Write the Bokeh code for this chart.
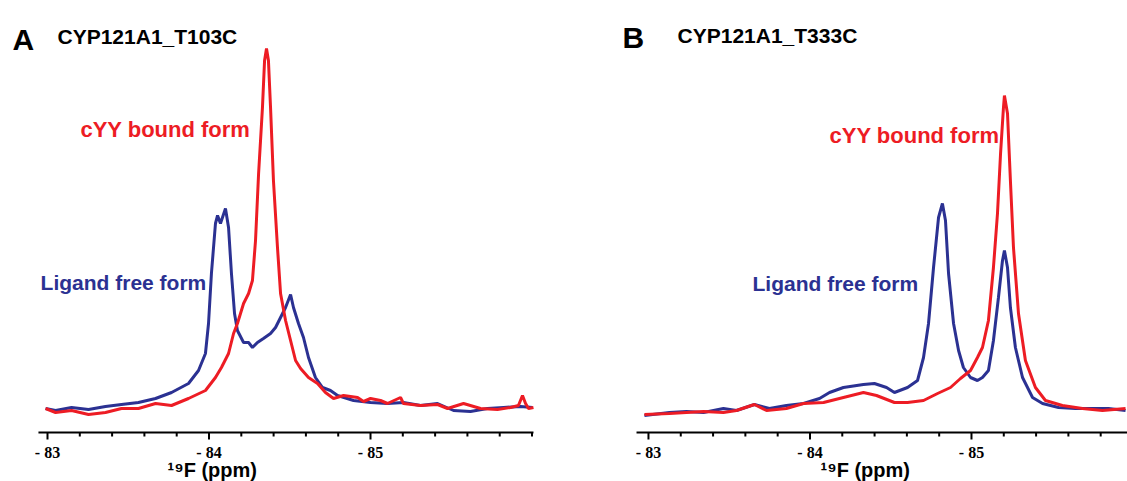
from bokeh.plotting import figure
from bokeh.layouts import row
from bokeh.models import Range1d, Label
from bokeh.embed import file_html
from bokeh.resources import INLINE

# ---------------- data (19F chemical shift in ppm, intensity in a.u.) ----------------
a_free_ppm = [-82.988, -83.050, -83.149, -83.254, -83.359, -83.458, -83.563, -83.669, -83.768, -83.873,
              -83.935, -83.978, -83.997, -84.015, -84.040, -84.053, -84.071, -84.102, -84.121, -84.139,
              -84.158, -84.176, -84.214, -84.245, -84.269, -84.300, -84.337, -84.381, -84.412, -84.443,
              -84.474, -84.505, -84.523, -84.554, -84.585, -84.616, -84.659, -84.703, -84.752, -84.796,
              -84.895, -85.000, -85.105, -85.204, -85.310, -85.415, -85.514, -85.619, -85.724, -85.824,
              -85.929, -86.003]
a_free_int = [24, 22, 25, 23, 26, 28, 30, 34, 40, 49,
              62, 79, 109, 159, 209, 217, 209, 224, 205, 159,
              119, 102, 90, 90, 85, 90, 94, 99, 105, 115,
              125, 138, 125, 109, 95, 75, 55, 45, 42, 37,
              32, 30, 29, 30, 27, 29, 22, 21, 24, 25,
              26, 25]

a_bound_ppm = [-82.988, -83.050, -83.149, -83.254, -83.359, -83.458, -83.563, -83.669, -83.768, -83.873,
               -83.978, -84.040, -84.077, -84.121, -84.152, -84.176, -84.214, -84.245, -84.269, -84.288,
               -84.307, -84.331, -84.344, -84.356, -84.368, -84.381, -84.399, -84.424, -84.443, -84.474,
               -84.505, -84.536, -84.567, -84.616, -84.672, -84.721, -84.771, -84.833, -84.920, -84.957,
               -85.000, -85.062, -85.105, -85.186, -85.204, -85.310, -85.415, -85.477, -85.576, -85.681,
               -85.786, -85.867, -85.916, -85.941, -85.960, -85.978, -86.009]
a_bound_int = [24, 20, 22, 18, 20, 24, 24, 29, 27, 34,
               42, 55, 65, 79, 99, 109, 129, 139, 152, 192,
               259, 325, 372, 384, 372, 325, 252, 185, 139, 112,
               92, 72, 64, 55, 49, 40, 34, 37, 35, 31,
               34, 32, 29, 35, 29, 27, 28, 24, 29, 24,
               23, 25, 27, 37, 29, 24, 25]

b_free_ppm = [-82.975, -83.130, -83.235, -83.341, -83.464, -83.545, -83.656, -83.749, -83.854, -83.960,
              -84.059, -84.121, -84.207, -84.331, -84.399, -84.474, -84.523, -84.604, -84.666, -84.703,
              -84.734, -84.765, -84.796, -84.820, -84.839, -84.858, -84.889, -84.920, -84.950, -84.994,
              -85.037, -85.068, -85.105, -85.136, -85.167, -85.192, -85.204, -85.223, -85.241, -85.272,
              -85.316, -85.378, -85.440, -85.539, -85.644, -85.749, -85.848, -85.954]
b_free_int = [17, 20, 21, 20, 24, 22, 28, 24, 27, 29,
              34, 40, 45, 48, 49, 45, 40, 45, 52, 75,
              109, 165, 215, 229, 212, 159, 109, 82, 65, 55,
              52, 55, 62, 92, 135, 172, 182, 165, 125, 85,
              55, 35, 29, 25, 24, 24, 24, 22]

b_bound_ppm = [-82.975, -83.130, -83.235, -83.341, -83.464, -83.545, -83.656, -83.731, -83.854, -83.960,
               -84.084, -84.207, -84.331, -84.412, -84.523, -84.604, -84.703, -84.790, -84.870, -84.932,
               -84.994, -85.037, -85.068, -85.105, -85.136, -85.161, -85.180, -85.198, -85.204, -85.223,
               -85.241, -85.260, -85.291, -85.334, -85.396, -85.458, -85.563, -85.687, -85.811, -85.954]
b_bound_int = [18, 19, 20, 21, 20, 22, 28, 22, 24, 29,
               30, 35, 40, 37, 30, 30, 32, 39, 45, 54,
               62, 75, 85, 112, 165, 219, 279, 325, 337, 319,
               252, 185, 119, 72, 45, 32, 27, 24, 22, 24]

tick_values = [-83, -84, -85]
tick_labels = ["- 83", "- 84", "- 85"]
minor_values = [-83.2, -83.4, -83.6, -83.8, -84.2, -84.4, -84.6, -84.8,
                -85.2, -85.4, -85.6, -85.8, -86.0]

panel_letters = ["A", "B"]
panel_titles = ["CYP121A1_T103C", "CYP121A1_T333C"]
bound_label = "cYY bound form"
free_label = "Ligand free form"
x_label = "\u00b9\u2079F (ppm)"

BLUE = "#2B3192"
RED = "#ED1C24"
FONT = "Liberation Sans"

# one intensity unit == one pixel; axis baseline at intensity 0
MAJOR_LEN = 7
MINOR_LEN = 4
TICKLABEL_Y = -20


def make_panel(width, xr, axis_span, free_ppm, free_int, bound_ppm, bound_int,
               letter, title, letter_pos, title_pos, bound_pos, free_pos, xlabel_pos):
    p = figure(width=width, height=481, output_backend="svg", toolbar_location=None,
               x_range=Range1d(*xr), y_range=Range1d(-49, 432),
               x_axis_location=None, y_axis_location=None,
               min_border=0, min_border_left=0, min_border_right=0,
               min_border_top=0, min_border_bottom=0)
    p.outline_line_color = None
    p.grid.visible = False
    p.background_fill_color = "white"
    p.border_fill_color = "white"

    # hand-drawn x axis (so that all texts can sit anywhere on the canvas)
    lo, hi = axis_span
    p.segment(x0=[lo], y0=[0], x1=[hi], y1=[0], line_color="black", line_width=2)
    maj = [t for t in tick_values if hi <= t <= lo]
    mnr = [t for t in minor_values if hi <= t <= lo]
    p.segment(x0=maj, y0=[0] * len(maj), x1=maj, y1=[-MAJOR_LEN] * len(maj),
              line_color="black", line_width=2)
    p.segment(x0=mnr, y0=[0] * len(mnr), x1=mnr, y1=[-MINOR_LEN] * len(mnr),
              line_color="black", line_width=2)
    p.text(x=maj, y=[TICKLABEL_Y] * len(maj), text=[tick_labels[tick_values.index(t)] for t in maj],
           text_align="center", text_baseline="alphabetic", text_font="Liberation Sans",
           text_font_style="bold", text_font_size="16px", text_color="black")

    p.line(free_ppm, free_int, line_color=BLUE, line_width=3)
    p.line(bound_ppm, bound_int, line_color=RED, line_width=3)

    def lab(pos, text, size, color="black"):
        p.add_layout(Label(x=pos[0], y=pos[1], text=text, text_font=FONT, text_font_style="bold",
                           text_font_size=size, text_color=color, text_align="left",
                           text_baseline="alphabetic"))

    lab(letter_pos, letter, "30px")
    lab(title_pos, title, "21px")
    lab(bound_pos, bound_label, "22px", RED)
    lab(free_pos, free_label, "21px", BLUE)
    lab(xlabel_pos, x_label, "20px")
    return p


pA = make_panel(600, (-82.709, -86.424), (-82.944, -86.009),
                a_free_ppm, a_free_int, a_bound_ppm, a_bound_int,
                panel_letters[0], panel_titles[0],
                (-82.783, 393), (-83.062, 396), (-83.204, 303), (-82.957, 150), (-83.743, -37))
pB = make_panel(527, (-82.703, -85.966), (-82.926, -85.966),
                b_free_ppm, b_free_int, b_bound_ppm, b_bound_int,
                panel_letters[1], panel_titles[1],
                (-82.839, 395), (-83.180, 397), (-84.121, 297), (-83.644, 149), (-84.065, -37))

layout = row(pA, pB, spacing=0)
open("out.html", "w").write(file_html(layout, INLINE))
